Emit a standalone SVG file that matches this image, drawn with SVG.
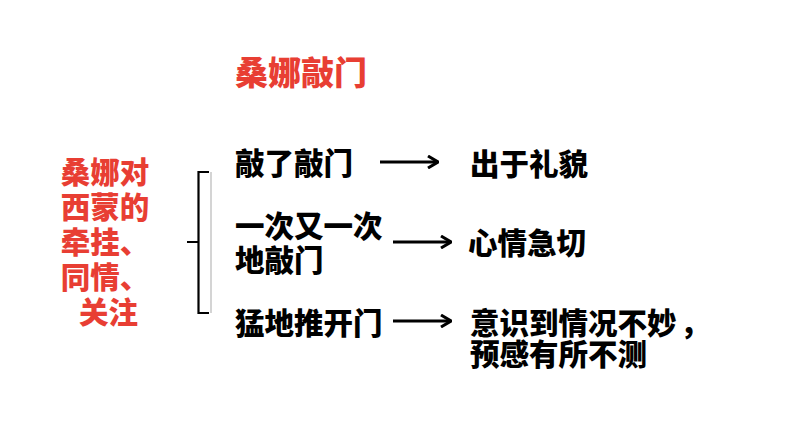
<svg xmlns="http://www.w3.org/2000/svg" width="794" height="447" viewBox="0 0 794 447">
  <defs>
    <style>
      .red { fill: #e83e33; font-family: "Noto Sans CJK SC", "Noto Sans", sans-serif; font-weight: 900; }
      .blk { fill: #000; font-family: "Noto Sans CJK SC", "Noto Sans", sans-serif; font-weight: 900; font-size: 29.5px; }
      .conn { stroke: #000; stroke-width: 3; fill: none; marker-end: url(#arrow); }
    </style>
    <marker id="arrow" viewBox="0 0 12 14" refX="11" refY="7" markerWidth="12" markerHeight="14" markerUnits="userSpaceOnUse" orient="auto">
      <polyline points="1,1 11,7 1,13" fill="none" stroke="#000" stroke-width="3" stroke-linejoin="miter"/>
    </marker>
  </defs>
  <rect width="794" height="447" fill="#fff"/>

  <g id="title">
    <text class="red" x="235" y="85" font-size="33">桑娜敲门</text>
  </g>

  <g id="left-label">
    <text class="red" font-size="29.5" text-anchor="middle">
      <tspan x="108.5" y="183">桑娜对</tspan>
      <tspan x="108.5" y="218">西蒙的</tspan>
      <tspan x="108.5" y="253">牵挂、</tspan>
      <tspan x="108.5" y="288">同情、</tspan>
      <tspan x="108.5" y="323">关注</tspan>
    </text>
  </g>

  <g id="bracket">
    <line x1="211" y1="172" x2="211" y2="313" stroke="#d4d4d4" stroke-width="2"/>
    <path d="M 209 172 L 198.5 172 L 198.5 313 L 209 313 M 198.5 242 L 187 242" fill="none" stroke="#000" stroke-width="2.2"/>
  </g>

  <g id="action1"><text class="blk" x="235" y="174">敲了敲门</text></g>
  <g id="result1"><text class="blk" x="470" y="175">出于礼貌</text></g>

  <g id="action2">
    <text class="blk"><tspan x="235" y="237">一次又一次</tspan><tspan x="235" y="271">地敲门</tspan></text>
  </g>
  <g id="result2"><text class="blk" x="468" y="254">心情急切</text></g>

  <g id="action3"><text class="blk" x="235" y="334">猛地推开门</text></g>
  <g id="result3">
    <text class="blk"><tspan x="470" y="334">意识到情况不妙</tspan><tspan x="680" y="334">，</tspan><tspan x="470" y="365">预感有所不测</tspan></text>
  </g>

  <g id="connectors">
    <line class="conn" x1="380" y1="162" x2="438" y2="162"/>
    <line class="conn" x1="393" y1="242" x2="451" y2="242"/>
    <line class="conn" x1="393" y1="321" x2="451" y2="321"/>
  </g>
</svg>
